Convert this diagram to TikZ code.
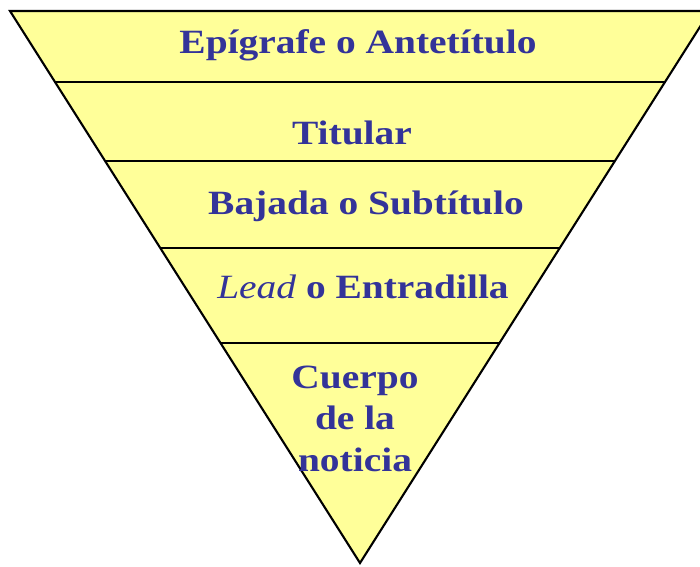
\documentclass[tikz,border=0pt]{standalone}
\usepackage{fontspec}
\setmainfont{Liberation Serif}[FakeStretch=1.16]
\usetikzlibrary{calc}
\definecolor{pyrfill}{HTML}{FFFF99}
\definecolor{pyrtext}{HTML}{333399}
\tikzset{
  lbl/.style={anchor=base, inner sep=0pt, text=pyrtext, font=\fontsize{34}{41.5}\selectfont\bfseries, align=center},
  edge/.style={draw=black, line width=2.1pt},
}
\begin{document}
\begin{tikzpicture}[x=1pt,y=-1pt]
\useasboundingbox (0,0) rectangle (700,566);
\clip (0,0) rectangle (700,566);
\coordinate (L) at (10,11);
\coordinate (R) at (710,11);
\coordinate (A) at (360,563);
\filldraw[fill=pyrfill, edge, line join=miter] (L) -- (R) -- (A) -- cycle;
\foreach \t [count=\i] in {0.1286,0.2717,0.4293,0.6014}{
  \coordinate (l\i) at ($(L)!\t!(A)$);
  \coordinate (r\i) at ($(R)!\t!(A)$);
  \draw[edge] (l\i) -- (r\i);
}
\node[lbl] (t1) at (358,53) {Epígrafe o Antetítulo};
\node[lbl] (t2) at (352,144) {Titular};
\node[lbl] (t3) at (366,214) {Bajada o Subtítulo};
\node[lbl] (t4) at (363,298) {{\mdseries\itshape Lead} o Entradilla};
\node[lbl] (t5) at (355,471) {Cuerpo\\de la\\noticia};
\end{tikzpicture}
\end{document}
